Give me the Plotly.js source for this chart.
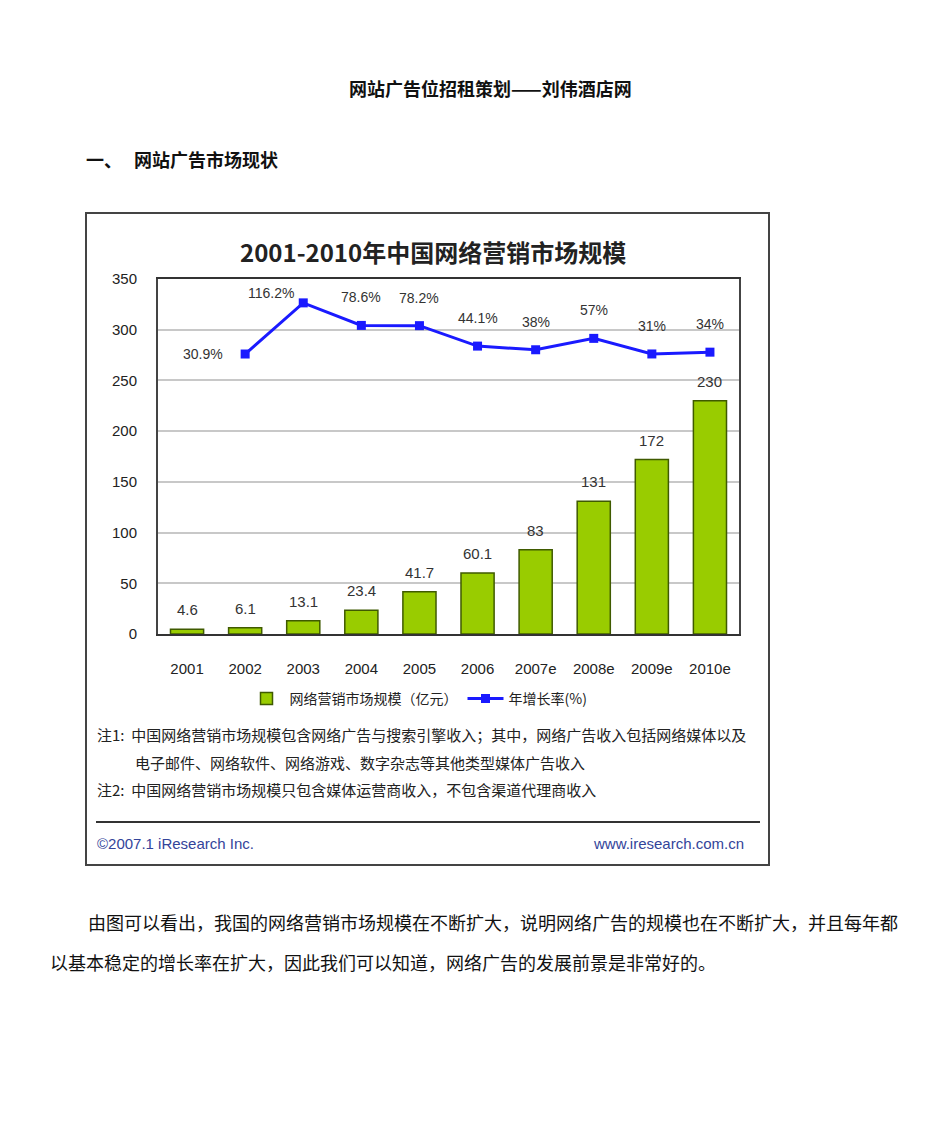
<!DOCTYPE html>
<html>
<head>
<meta charset="utf-8">
<script src="https://cdn.plot.ly/plotly-3.0.1.min.js"></script>
<style>
  html, body { margin: 0; padding: 0; background: #fff; }
  #chart { width: 945px; height: 1123px; }
</style>
</head>
<body>
<div id="chart"></div>
<script>
var years = ['2001', '2002', '2003', '2004', '2005', '2006', '2007e', '2008e', '2009e', '2010e'];
var marketSize = [4.6, 6.1, 13.1, 23.4, 41.7, 60.1, 83, 131, 172, 230];
var rateYears = ['2002', '2003', '2004', '2005', '2006', '2007e', '2008e', '2009e', '2010e'];
var growthRate = [30.9, 116.2, 78.6, 78.2, 44.1, 38, 57, 31, 34];
var rateLabels = ['30.9%', '116.2%', '78.6%', '78.2%', '44.1%', '38%', '57%', '31%', '34%'];

var W = 945, H = 1123;
function px(x) { return x / W; }
function py(y) { return 1 - y / H; }

var cjk = '"Noto Sans CJK SC", "Noto Sans", sans-serif';
var latin = '"Liberation Sans", Arial, "Noto Sans CJK SC", sans-serif';

var bars = {
    x: years,
    y: marketSize,
    type: 'bar',
    name: '网络营销市场规模（亿元）',
    marker: { color: '#99cc00', line: { color: '#3f5a00', width: 1.5 } },
    hoverinfo: 'x+y'
};

var rates = {
    x: rateYears,
    y: growthRate,
    yaxis: 'y2',
    type: 'scatter',
    mode: 'lines+markers',
    name: '年增长率(%)',
    line: { color: '#1a1aff', width: 3 },
    marker: { color: '#1a1aff', symbol: 'square', size: 9 }
};

var notes = [];

// numbers over the bars (category axis: annotations take the index)
for (var i = 0; i < years.length; i++) {
    notes.push({
        x: i, y: marketSize[i], xref: 'x', yref: 'y',
        text: String(marketSize[i]), showarrow: false,
        yanchor: 'bottom', yshift: 9,
        font: { family: latin, size: 15, color: '#333' }
    });
}

// growth labels
for (var j = 0; j < rateYears.length; j++) {
    var a = {
        x: years.indexOf(rateYears[j]), y: growthRate[j], xref: 'x', yref: 'y2',
        text: rateLabels[j], showarrow: false,
        yanchor: 'bottom', yshift: 18,
        font: { family: latin, size: 14, color: '#333' }
    };
    if (j === 0) { a.yanchor = 'middle'; a.yshift = 0; a.xshift = -42; }
    if (j === 1) { a.yshift = 0; a.xshift = -32; }
    notes.push(a);
}

function txt(x, y, text, size, opts) {
    var o = {
        x: px(x), y: py(y), xref: 'paper', yref: 'paper',
        text: text, showarrow: false, xanchor: 'left', yanchor: 'middle',
        font: { family: cjk, size: size, color: '#111' }
    };
    for (var k in opts) o[k] = opts[k];
    return o;
}

// document text
notes.push(txt(490, 88, '<b>网站广告位招租策划——刘伟酒店网</b>', 18, { xanchor: 'center' }));
notes.push(txt(84, 159, '<b>一、</b>', 18));
notes.push(txt(132, 159, '<b>网站广告市场现状</b>', 18));
notes.push(txt(86, 922, '由图可以看出，我国的网络营销市场规模在不断扩大，说明网络广告的规模也在不断扩大，并且每年都', 18));
notes.push(txt(48, 962, '以基本稳定的增长率在扩大，因此我们可以知道，网络广告的发展前景是非常好的。', 18));

// chart title and notes
notes.push(txt(433, 251, '<b>2001-2010年中国网络营销市场规模</b>', 24, { xanchor: 'center', font: { family: cjk, size: 24, color: '#222' } }));
notes.push(txt(95, 734, '注1:  中国网络营销市场规模包含网络广告与搜索引擎收入；其中，网络广告收入包括网络媒体以及', 15, { font: { family: cjk, size: 15, color: '#222' } }));
notes.push(txt(133, 762, '电子邮件、网络软件、网络游戏、数字杂志等其他类型媒体广告收入', 15, { font: { family: cjk, size: 15, color: '#222' } }));
notes.push(txt(95, 789, '注2:  中国网络营销市场规模只包含媒体运营商收入，不包含渠道代理商收入', 15, { font: { family: cjk, size: 15, color: '#222' } }));
notes.push(txt(95, 843, '©2007.1 iResearch Inc.', 15, { font: { family: latin, size: 15, color: '#33449a' } }));
notes.push(txt(746, 843, 'www.iresearch.com.cn', 15, { xanchor: 'right', font: { family: latin, size: 15, color: '#33449a' } }));

var layout = {
    width: W,
    height: H,
    margin: { l: 0, r: 0, t: 0, b: 0 },
    paper_bgcolor: '#ffffff',
    plot_bgcolor: '#ffffff',
    showlegend: true,
    bargap: 0.43,
    legend: {
        orientation: 'h',
        x: px(418), xanchor: 'center',
        y: py(699), yanchor: 'middle',
        font: { family: cjk, size: 14, color: '#222' },
        itemwidth: 36,
        traceorder: 'normal'
    },
    xaxis: {
        domain: [px(158), px(739)],
        type: 'category',
        range: [-0.5, 9.5],
        showline: true, linecolor: '#333', linewidth: 2, mirror: true,
        ticks: '', ticklabelstandoff: 20,
        tickfont: { family: latin, size: 15, color: '#222' },
        fixedrange: true
    },
    yaxis: {
        domain: [py(634), py(279)],
        range: [0, 350],
        dtick: 50,
        showline: true, linecolor: '#444', linewidth: 2, mirror: true,
        gridcolor: '#c8c8c8', gridwidth: 2,
        zeroline: false,
        ticks: '', ticklabelstandoff: 16,
        tickfont: { family: latin, size: 15, color: '#222' },
        fixedrange: true
    },
    yaxis2: {
        overlaying: 'y',
        range: [-436, 156],
        visible: false,
        fixedrange: true
    },
    shapes: [
        { type: 'rect', xref: 'paper', yref: 'paper', x0: px(86), x1: px(769), y0: py(865), y1: py(213),
          line: { color: '#444', width: 2 } },
        { type: 'line', xref: 'paper', yref: 'paper', x0: px(96), x1: px(760), y0: py(822), y1: py(822),
          line: { color: '#333', width: 2 } }
    ],
    annotations: notes
};

Plotly.newPlot('chart', [bars, rates], layout, { displayModeBar: false, staticPlot: true });
</script>
</body>
</html>
